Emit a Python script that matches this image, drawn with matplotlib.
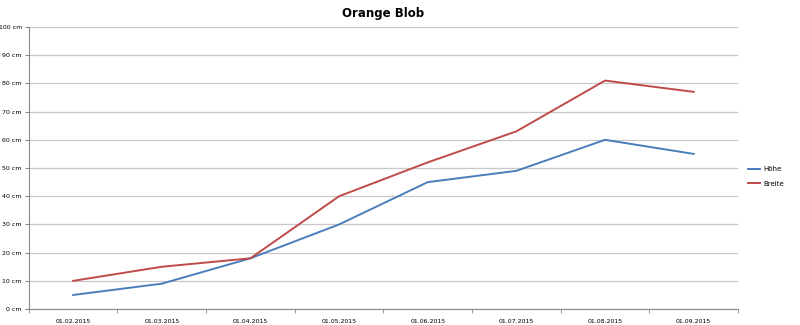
import numpy as np
import matplotlib.pyplot as plt
from matplotlib.ticker import FixedLocator, MultipleLocator

dates = ["01.02.2015", "01.03.2015", "01.04.2015", "01.05.2015",
         "01.06.2015", "01.07.2015", "01.08.2015", "01.09.2015"]
hoehe = [5, 9, 18, 30, 45, 49, 60, 55]
breite = [10, 15, 18, 40, 52, 63, 81, 77]

fig = plt.figure(figsize=(8, 3.25), dpi=100)
ax = fig.add_axes([0.036, 0.049, 0.8865, 0.868])

x = np.arange(len(dates))
ax.plot(x, hoehe, color="#4a7ebb", linewidth=1.4, label="Höhe")
ax.plot(x, breite, color="#be4b48", linewidth=1.4, label="Breite")

ax.set_xlim(-0.5, len(dates) - 0.5)
ax.set_ylim(0, 100)
ax.yaxis.set_major_locator(MultipleLocator(10))
ax.set_yticklabels([f"{int(v)} cm" for v in ax.get_yticks()])

# category labels centred, tick marks between categories
ax.set_xticks(x)
ax.set_xticklabels(dates)
ax.xaxis.set_minor_locator(FixedLocator(np.arange(-0.5, len(dates), 1)))
ax.tick_params(axis="x", which="major", length=0, labelsize=4.5, pad=7)
ax.tick_params(axis="x", which="minor", length=3, color="#888888")
ax.tick_params(axis="y", length=3, color="#888888", labelsize=4.5, pad=2)

ax.grid(axis="y", color="#c8c8c8", linewidth=0.9)
ax.set_axisbelow(True)
for side in ("top", "right"):
    ax.spines[side].set_visible(False)
for side in ("left", "bottom"):
    ax.spines[side].set_color("#888888")
    ax.spines[side].set_linewidth(0.8)

ax.set_title("Orange Blob", fontsize=8.5, fontweight="bold", pad=7)

ax.legend(loc="center left", bbox_to_anchor=(1.005, 0.47), frameon=False,
          fontsize=5, handlelength=1.8, handletextpad=0.4, labelspacing=1.2)

fig.savefig("out.png", dpi=100)
